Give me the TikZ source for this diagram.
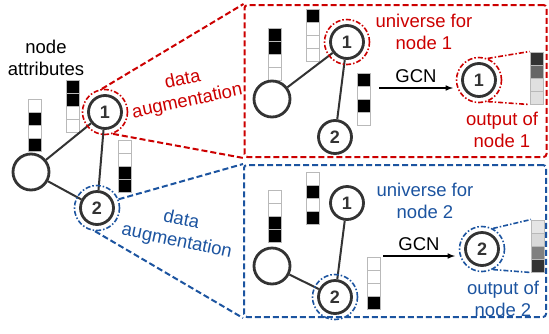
\documentclass[tikz,border=0pt]{standalone}
\usepackage{fontspec}
\setmainfont{Liberation Sans}
\usetikzlibrary{positioning,calc}
\definecolor{augred}{RGB}{204,0,0}
\definecolor{augblue}{RGB}{28,84,160}
\definecolor{edgegray}{RGB}{51,51,51}
\tikzset{
  gnode/.style={circle, draw=edgegray, fill=white, line width=2.8pt, minimum size=33pt, inner sep=0pt, text=edgegray, font=\fontsize{18}{18}\selectfont\bfseries},
  bignode/.style={gnode, minimum size=36pt},
  ring/.style={circle, draw, line width=1.6pt, dash pattern=on 5pt off 2pt on 1.5pt off 2pt, minimum size=45pt, inner sep=0pt},
  cell/.style={draw=gray!55, line width=1pt, minimum width=13pt, minimum height=13pt, inner sep=0pt},
  gedge/.style={draw=edgegray, line width=2pt},
  zoombox/.style={draw, line width=2pt, rounded corners=3pt, dash pattern=on 6pt off 3pt, minimum width=302pt, minimum height=152pt},
  augline/.style={line width=2pt, dash pattern=on 6pt off 3pt},
  tieline/.style={line width=1.6pt, dash pattern=on 5pt off 2pt on 1.5pt off 2pt},
  lbl/.style={font=\fontsize{18.5}{22}\selectfont, align=center},
}
\newcommand{\attrbar}[4]{%
  \foreach \c [count=\i from 0] in {#4}
    \node (#1-\i) [cell, fill=\c] at (#2,{#3+13*\i}) {};}
\begin{document}
\begin{tikzpicture}[x=1pt, y=-1pt]
\useasboundingbox (0,0) rectangle (549,333);
\node (rbox) [zoombox, augred] at (395.5,81) {};
\node (bbox) [zoombox, augblue] at (395,241) {};
\node (attr) [lbl] at (46,58) {node\\attributes};
\attrbar{ba}{35}{105.5}{white,black,white,black}
\attrbar{bb}{72.5}{86.5}{black,black,white,white}
\attrbar{bc}{125}{146.5}{white,white,black,black}
\node (big) [bignode] at (31,172) {};
\node (n1) [gnode] at (105,112) {1};
\node (n2) [gnode] at (97,208) {2};
\draw[gedge] (big) -- (n1);
\draw[gedge] (big) -- (n2);
\draw[gedge] (n1) -- (n2);
\node (r1) [ring, augred] at (n1) {};
\node (r2) [ring, augblue] at (n2) {};
\draw[augline, augred] (r1.98) -- (rbox.north west);
\draw[augline, augred] (r1.-70) -- (rbox.south west);
\draw[augline, augblue] (r2.22) -- (bbox.north west);
\draw[augline, augblue] (r2.-95) -- (bbox.south west);
\node (aug1) [lbl, augred, rotate=12] at (185,91) {data\\augmentation};
\node (aug2) [lbl, augblue, rotate=-12] at (179,231) {data\\augmentation};
\attrbar{rd}{275}{34.5}{black,black,white,white}
\attrbar{re}{312.5}{15.5}{black,white,white,white}
\attrbar{rf}{364}{79.5}{black,white,black,white}
\node (rbig) [bignode] at (272,99) {};
\node (rn1) [gnode] at (347,42) {1};
\node (rn2) [gnode] at (335,137) {2};
\draw[gedge] (rbig) -- (rn1);
\draw[gedge] (rn1) -- (rn2);
\node (rr1) [ring, augred] at (rn1) {};
\node (uni1) [lbl, augred] at (424,32) {universe for\\node 1};
\coordinate (g1a) at (379,88);
\coordinate (g1b) at (453,88);
\draw[->, >=latex, line width=1.5pt] (g1a) to node [above=1pt, lbl] {GCN} (g1b);
\node (ro1) [gnode] at (479,80) {1};
\node (rr1o) [ring, augred] at (ro1) {};
\attrbar{rg}{536.5}{58.5}{black!80,black!60,black!12,black!12}
\draw[tieline, augred] (rr1o.68) -- (rg-0.north west);
\draw[tieline, augred] (rr1o.-68) -- (rg-3.south west);
\node (out1) [lbl, augred] at (502,130) {output of\\node 1};
\attrbar{bh}{275}{196.5}{white,white,black,black}
\attrbar{bi}{312.5}{178.5}{white,black,white,black}
\attrbar{bj}{374}{263.5}{white,white,white,black}
\node (bbig) [bignode] at (272,266) {};
\node (bn1) [gnode] at (347,203) {1};
\node (bn2) [gnode] at (335,297) {2};
\draw[gedge] (bbig) -- (bn2);
\draw[gedge] (bn1) -- (bn2);
\node (br2) [ring, augblue] at (bn2) {};
\node (uni2) [lbl, augblue] at (425,201) {universe for\\node 2};
\coordinate (g2a) at (383,256);
\coordinate (g2b) at (455,256);
\draw[->, >=latex, line width=1.5pt] (g2a) to node [above=1pt, lbl] {GCN} (g2b);
\node (bo2) [gnode] at (482,249) {2};
\node (br2o) [ring, augblue] at (bo2) {};
\attrbar{bk}{538}{226.5}{black!10,black!15,black!50,black!80}
\draw[tieline, augblue] (br2o.62) -- (bk-0.north west);
\draw[tieline, augblue] (br2o.-62) -- (bk-3.south west);
\node (out2) [lbl, augblue] at (503,299) {output of\\node 2};
\end{tikzpicture}
\end{document}
